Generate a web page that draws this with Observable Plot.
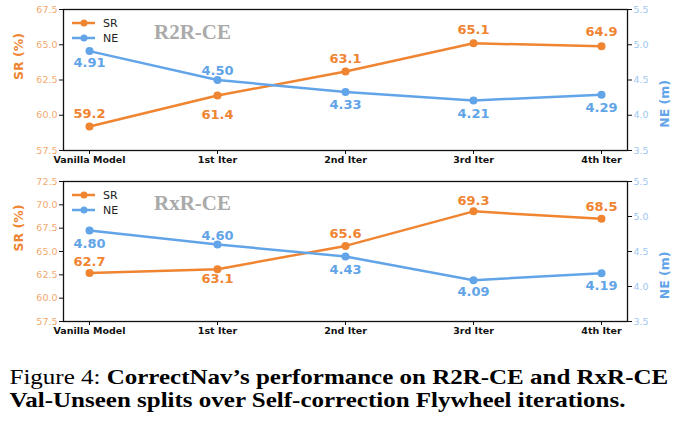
<!DOCTYPE html>
<html>
<head>
<meta charset="utf-8">
<script src="https://cdn.jsdelivr.net/npm/d3@7"></script>
<script src="https://cdn.jsdelivr.net/npm/@observablehq/plot@0.6"></script>
<style>
  body { margin: 0; background: #fff; width: 682px; overflow: hidden; }
  .panel { position: relative; width: 682px; }
  .caption { font-family: "Liberation Serif", serif; font-size: 21px; line-height: 23.4px; padding: 24px 0 0 8px; color: #000; white-space: nowrap; transform: scaleX(1.19); transform-origin: 0 0; }
  .caption b { font-weight: bold; }
</style>
</head>
<body>
<div id="top" class="panel"></div>
<div id="bottom" class="panel"></div>
<div class="caption">Figure 4: <b>CorrectNav’s performance on R2R-CE and RxR-CE</b><br><b>Val-Unseen splits over Self-correction Flywheel iterations.</b></div>
<script>
const categories = ["Vanilla Model", "1st Iter", "2nd Iter", "3rd Iter", "4th Iter"];
const r2rSR = [59.2, 61.4, 63.1, 65.1, 64.9];
const r2rNE = [4.91, 4.50, 4.33, 4.21, 4.29];
const rxrSR = [62.7, 63.1, 65.6, 69.3, 68.5];
const rxrNE = [4.80, 4.60, 4.43, 4.09, 4.19];
const r2rSRTicks = [57.5, 60, 62.5, 65, 67.5];
const rxrSRTicks = [57.5, 60, 62.5, 65, 67.5, 70, 72.5];
const neTicks = [3.5, 4, 4.5, 5, 5.5];
const seriesNames = ["SR", "NE"];

const orange = "#ef8431";
const blue = "#62a4e8";
const orangeLight = "#f3a96f";
const blueLight = "#9ec7f1";

function panel(el, {title, sr, ne, srDomain, srTicks, srDy, neDy, marginTop, titleDy}) {
  const neDomain = [neTicks[0], neTicks[neTicks.length - 1]];
  const toSr = v => srDomain[0] + (v - neDomain[0]) / (neDomain[1] - neDomain[0]) * (srDomain[1] - srDomain[0]);
  const fromSr = v => neDomain[0] + (v - srDomain[0]) / (srDomain[1] - srDomain[0]) * (neDomain[1] - neDomain[0]);
  const rows = categories.map((c, i) => ({cat: c, sr: sr[i], ne: ne[i], neY: toSr(ne[i])}));
  const labelStyle = {fontWeight: "bold", fontSize: 13};
  const svg = Plot.plot({
    width: 682, height: 171,
    marginLeft: 63, marginRight: 55, marginTop, marginBottom: 21,
    x: {type: "point", domain: categories, padding: 0.2},
    y: {domain: srDomain},
    style: {fontFamily: "DejaVu Sans", background: "transparent", overflow: "visible"},
    marks: [
      Plot.axisX({tickSize: 4, tickPadding: 2, fontWeight: "bold", fontSize: 9.5, fill: "#111", stroke: "#111", label: null}),
      Plot.axisY({ticks: srTicks, tickFormat: d => d.toFixed(1), tickSize: 4, tickPadding: 2, fontSize: 9.5, fill: orangeLight, stroke: "#111", label: null}),
      Plot.axisY({anchor: "right", ticks: neTicks.map(toSr), tickFormat: d => fromSr(d).toFixed(1), tickSize: 4, tickPadding: 2, fontSize: 9.5, fill: blueLight, stroke: "#111", label: null}),
      Plot.text(["SR (%)"], {frameAnchor: "left", text: d => d, rotate: -90, dx: -45, fill: orange, fontWeight: "bold", fontSize: 12.5}),
      Plot.text(["NE (m)"], {frameAnchor: "right", text: d => d, rotate: -90, dx: 37, fill: blue, fontWeight: "bold", fontSize: 12.5}),
      Plot.text([title], {frameAnchor: "top-left", text: d => d, dx: 129, dy: titleDy, textAnchor: "middle", fontFamily: "Liberation Serif", fontWeight: "bold", fontSize: 21, fill: "#aaaaaa"}),
      Plot.line(rows, {x: "cat", y: "sr", stroke: orange, strokeWidth: 2.5}),
      Plot.dot(rows, {x: "cat", y: "sr", r: 4, fill: orange}),
      Plot.line(rows, {x: "cat", y: "neY", stroke: blue, strokeWidth: 2.5}),
      Plot.dot(rows, {x: "cat", y: "neY", r: 4, fill: blue}),
      ...rows.map((d, i) => Plot.text([d], {x: "cat", y: "sr", text: d => d.sr.toFixed(1), dy: srDy[i], fill: orange, ...labelStyle})),
      ...rows.map((d, i) => Plot.text([d], {x: "cat", y: "neY", text: d => d.ne.toFixed(2), dy: neDy[i], fill: blue, ...labelStyle})),
      Plot.frame({stroke: "#111", strokeWidth: 1.3})
    ]
  });
  // legend
  const g = d3.select(svg).append("g").attr("font-family", "DejaVu Sans").attr("font-size", 11);
  seriesNames.forEach((name, i) => {
    const y = marginTop + 14 + i * 15;
    const col = i === 0 ? orange : blue;
    g.append("line").attr("x1", 72).attr("x2", 95).attr("y1", y).attr("y2", y).attr("stroke", col).attr("stroke-width", 2.5);
    g.append("circle").attr("cx", 84).attr("cy", y).attr("r", 3.5).attr("fill", col);
    g.append("text").attr("x", 103).attr("y", y).attr("dy", "0.35em").attr("text-anchor", "start").attr("fill", "#222").text(name);
  });
  document.getElementById(el).append(svg);
}

panel("top", {
  title: "R2R-CE", sr: r2rSR, ne: r2rNE, srDomain: [57.5, 67.5], srTicks: r2rSRTicks,
  srDy: [-13, 19, -13, -14, -14], neDy: [12, -9, 13, 13, 13], marginTop: 9, titleDy: 15
});
panel("bottom", {
  title: "RxR-CE", sr: rxrSR, ne: rxrNE, srDomain: [57.5, 72.5], srTicks: rxrSRTicks,
  srDy: [-11, 10, -12, -11, -12], neDy: [13, -9, 13, 12, 13], marginTop: 10, titleDy: 14
});
</script>
</body>
</html>
